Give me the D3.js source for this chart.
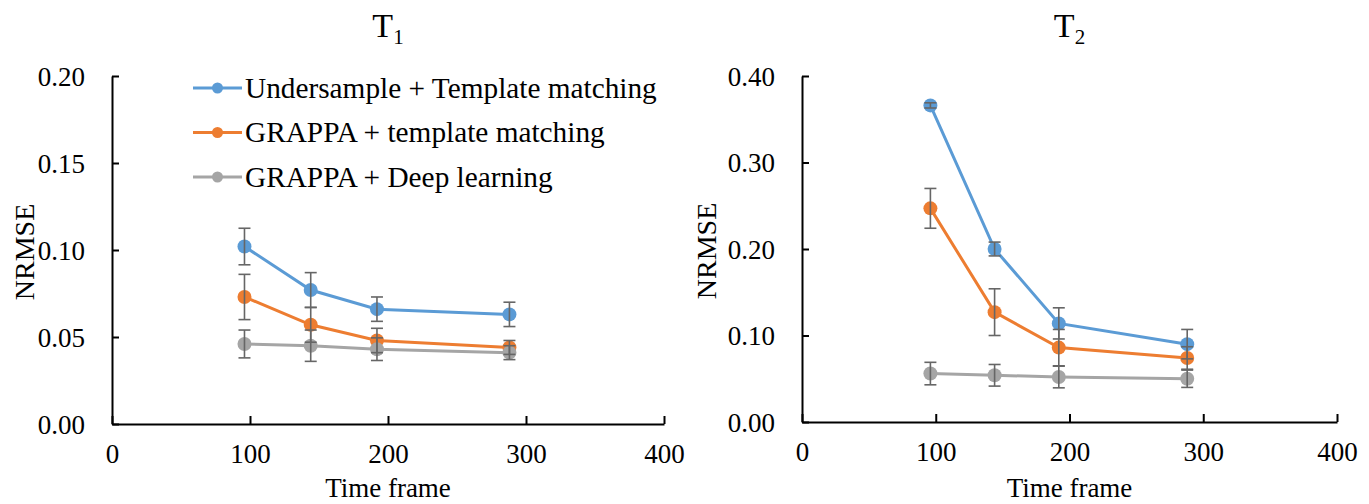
<!DOCTYPE html>
<html>
<head>
<meta charset="utf-8">
<script src="https://cdn.jsdelivr.net/npm/d3@7"></script>
<style>
  body { margin: 0; background: #fff; }
  svg { display: block; }
  text { font-family: "Liberation Serif", "Times New Roman", serif; fill: #000; }
</style>
</head>
<body>
<svg id="chart"></svg>
<script>
"use strict";

var width  = 1369,
    height = 504;

var serif = '"Liberation Serif", "Times New Roman", serif';

// time frames (x values)
var frames = [96, 144, 192, 288];

var seriesNames = ["Undersample + Template matching",
                   "GRAPPA + template matching",
                   "GRAPPA + Deep learning"];
var colors = ["#5b9bd5", "#ed7d31", "#a5a5a5"];

// T1 panel: mean NRMSE and error (+/-)
var t1Under     = [0.102, 0.077, 0.066, 0.063],
    t1UnderErr  = [0.0105, 0.010, 0.007, 0.007];
var t1Grappa    = [0.073, 0.057, 0.048, 0.044],
    t1GrappaErr = [0.013, 0.010, 0.007, 0.004];
var t1Deep      = [0.046, 0.045, 0.043, 0.041],
    t1DeepErr   = [0.008, 0.009, 0.0065, 0.004];

// T2 panel
var t2Under     = [0.366, 0.200, 0.114, 0.090],
    t2UnderErr  = [0.003, 0.008, 0.018, 0.017];
var t2Grappa    = [0.247, 0.127, 0.086, 0.074],
    t2GrappaErr = [0.023, 0.027, 0.021, 0.013];
var t2Deep      = [0.056, 0.054, 0.052, 0.050],
    t2DeepErr   = [0.013, 0.0125, 0.0125, 0.010];

var xTicks   = [0, 100, 200, 300, 400];
var t1YTicks = [0, 0.05, 0.10, 0.15, 0.20];
var t2YTicks = [0, 0.10, 0.20, 0.30, 0.40];

var svg = d3.select("#chart")
            .attr("width", width)
            .attr("height", height);

function drawPanel(opts) {
    var x = d3.scaleLinear().domain([0, 400]).range([opts.left, opts.right]);
    var y = d3.scaleLinear().domain([0, opts.ymax]).range([opts.bottom, opts.top]);
    var g = svg.append("g");

    // axes, ticks pointing inside like the excel original
    var xAxis = d3.axisBottom(x)
                  .tickValues(xTicks)
                  .tickFormat(d3.format("d"))
                  .tickSizeInner(-8)
                  .tickSizeOuter(0)
                  .tickPadding(20);
    var yAxis = d3.axisLeft(y)
                  .tickValues(opts.yTicks)
                  .tickFormat(d3.format(".2f"))
                  .tickSizeInner(-7)
                  .tickSizeOuter(0)
                  .tickPadding(27);

    var gx = g.append("g")
              .attr("transform", "translate(0," + opts.bottom + ")")
              .call(xAxis);
    var gy = g.append("g")
              .attr("transform", "translate(" + opts.left + ",0)")
              .call(yAxis);

    [gx, gy].forEach(function(a) {
        a.attr("font-family", serif);
        a.selectAll("path, line").attr("stroke", "#000").attr("stroke-width", 2);
        a.selectAll("text")
         .style("font-family", serif)
         .style("font-size", "27px")
         .attr("fill", "#000");
    });
    gy.selectAll("text").attr("dy", "0.34em");

    // series
    var line = d3.line()
                 .x(function(d) { return x(d.t); })
                 .y(function(d) { return y(d.v); });

    var errLayer = [];
    opts.series.forEach(function(s, i) {
        var pts = frames.map(function(t, j) { return {t: t, v: s.values[j], e: s.errors[j]}; });
        errLayer.push(pts);
        g.append("path")
         .datum(pts)
         .attr("d", line)
         .attr("fill", "none")
         .attr("stroke", colors[i])
         .attr("stroke-width", 3);
        g.selectAll(".pt" + i)
         .data(pts)
         .enter().append("circle")
            .attr("cx", function(d) { return x(d.t); })
            .attr("cy", function(d) { return y(d.v); })
            .attr("r", 7)
            .attr("fill", colors[i]);
    });

    // error bars on top
    errLayer.forEach(function(pts) {
        var eb = g.append("g")
                  .attr("stroke", "#666")
                  .attr("stroke-width", 1.6);
        pts.forEach(function(d) {
            var cx = x(d.t);
            eb.append("line")
              .attr("x1", cx).attr("x2", cx)
              .attr("y1", y(d.v - d.e)).attr("y2", y(d.v + d.e));
            [d.v - d.e, d.v + d.e].forEach(function(v) {
                eb.append("line")
                  .attr("x1", cx - 6).attr("x2", cx + 6)
                  .attr("y1", y(v)).attr("y2", y(v));
            });
        });
    });

    // titles
    var title = g.append("text")
                 .attr("x", (opts.left + opts.right) / 2)
                 .attr("y", 37)
                 .attr("text-anchor", "middle")
                 .style("font-family", serif)
                 .style("font-size", "34px");
    title.append("tspan").text("T");
    title.append("tspan")
         .attr("dy", 7)
         .style("font-size", "21px")
         .text(opts.sub);

    g.append("text")
     .attr("x", (opts.left + opts.right) / 2)
     .attr("y", 497)
     .attr("text-anchor", "middle")
     .style("font-family", serif)
     .style("font-size", "27px")
     .text("Time frame");

    g.append("text")
     .attr("transform", "translate(" + opts.ylabelX + "," + ((opts.top + opts.bottom) / 2 + 2) + ") rotate(-90)")
     .attr("text-anchor", "middle")
     .attr("dy", "0.35em")
     .style("font-family", serif)
     .style("font-size", "28px")
     .text("NRMSE");
}

drawPanel({
    left: 112, right: 664, top: 76, bottom: 424, ymax: 0.20,
    yTicks: t1YTicks, sub: "1", ylabelX: 24,
    series: [{values: t1Under,  errors: t1UnderErr},
             {values: t1Grappa, errors: t1GrappaErr},
             {values: t1Deep,   errors: t1DeepErr}]
});

drawPanel({
    left: 802, right: 1337, top: 76, bottom: 422, ymax: 0.40,
    yTicks: t2YTicks, sub: "2", ylabelX: 706,
    series: [{values: t2Under,  errors: t2UnderErr},
             {values: t2Grappa, errors: t2GrappaErr},
             {values: t2Deep,   errors: t2DeepErr}]
});

// legend (T1 panel)
var legend = svg.append("g")
                .attr("transform", "translate(193, 88)");
var rows = legend.selectAll("g")
                 .data(seriesNames)
                 .enter().append("g")
                    .attr("transform", function(d, i) { return "translate(0," + i * 44.5 + ")"; });
rows.append("line")
    .attr("x1", 0).attr("x2", 49)
    .attr("stroke", function(d, i) { return colors[i]; })
    .attr("stroke-width", 3);
rows.append("circle")
    .attr("cx", 24.5)
    .attr("r", 5.5)
    .attr("fill", function(d, i) { return colors[i]; });
rows.append("text")
    .attr("x", 52)
    .attr("dy", "0.34em")
    .style("font-family", serif)
    .style("font-size", "29.3px")
    .text(function(d) { return d; });
</script>
</body>
</html>
